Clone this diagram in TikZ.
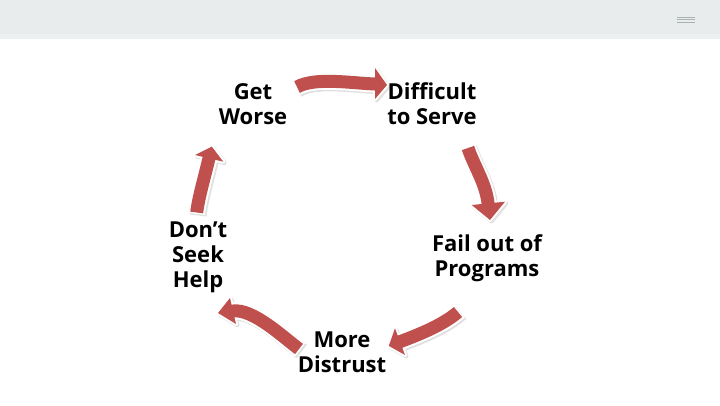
\documentclass[tikz,border=0pt]{standalone}
\usepackage{fontspec}
\setmainfont{Open Sans}
\usetikzlibrary{calc}
\definecolor{arrowred}{HTML}{C0504D}
\definecolor{bandgray}{HTML}{E8ECEC}
\definecolor{bandlight}{HTML}{EDF0F0}
\definecolor{icongray}{HTML}{ABB0B0}
\tikzset{
  label text/.style={font=\bfseries\fontsize{22pt}{25pt}\selectfont, align=center, inner sep=0pt, text=black},
  arrow body/.style={line width=13pt, arrowred},
  arrow edge/.style={line width=17pt, white},
  arrow shade/.style={line width=17pt, black!12},
}
\newcommand{\cyclearrow}[7]{%
  % #1 tail, #2 control 1, #3 control 2, #4 head base centre, #5 #6 head corners, #7 tip
  \begin{scope}[shift={(1.5,1.5)}]
    \draw[arrow shade] ($(#1)!-1.5pt!(#2)$) -- (#1) .. controls (#2) and (#3) .. (#4) -- ($(#4)!3pt!(#7)$);
    \filldraw[black!12, line width=4pt, line join=round] (#5) -- (#7) -- (#6) -- cycle;
  \end{scope}
  \draw[arrow edge] ($(#1)!-1.5pt!(#2)$) -- (#1) .. controls (#2) and (#3) .. (#4) -- ($(#4)!3pt!(#7)$);
  \filldraw[white, line width=4pt, line join=round] (#5) -- (#7) -- (#6) -- cycle;
  \draw[arrow body] (#1) .. controls (#2) and (#3) .. (#4) -- ($(#4)!3pt!(#7)$);
  \fill[arrowred] (#5) -- (#7) -- (#6) -- cycle;
}
\begin{document}
\begin{tikzpicture}[x=1pt, y=-1pt]
  \useasboundingbox (0,0) rectangle (720,405);
  \fill[white] (0,0) rectangle (720,405);
  % header band
  \fill[bandgray] (0,0) rectangle (720,34);
  \fill[bandlight] (0,34) rectangle (720,39);
  % menu icon
  \foreach \yy in {17.3,19.7,22} {
    \draw[icongray, line width=0.8pt] (676.7,\yy) -- (695,\yy);
  }
  % arrows
  \cyclearrow{297,87}{315,77}{350,83}{375,84}{375,68}{375,99}{387,85}
  \cyclearrow{468,148}{474,166}{485.7,183}{488,203}{471.7,205}{505,201.7}{490,220}
  \cyclearrow{458,312}{443,325}{418.7,334.7}{400,341.7}{395,328.3}{405,355}{388.8,345.9}
  \cyclearrow{299,349}{283,337}{252.8,308.4}{233,311}{230,298}{236,324}{218,313}
  \cyclearrow{196.7,212.5}{198.5,197.5}{204.4,177.8}{209,158.3}{195,155}{223.3,161.7}{211.8,146.6}
  % labels
  \node[label text] (worse) at (253,104) {Get\\Worse};
  \node[label text] (serve) at (432,104) {Difficult\\to Serve};
  \node[label text] (fail) at (487,258) {Fail out of\\Programs};
  \node[label text] (distrust) at (342,352) {More\\Distrust};
  \node[label text] (help) at (198,257) {Don’t\\Seek\\Help};
\end{tikzpicture}
\end{document}
